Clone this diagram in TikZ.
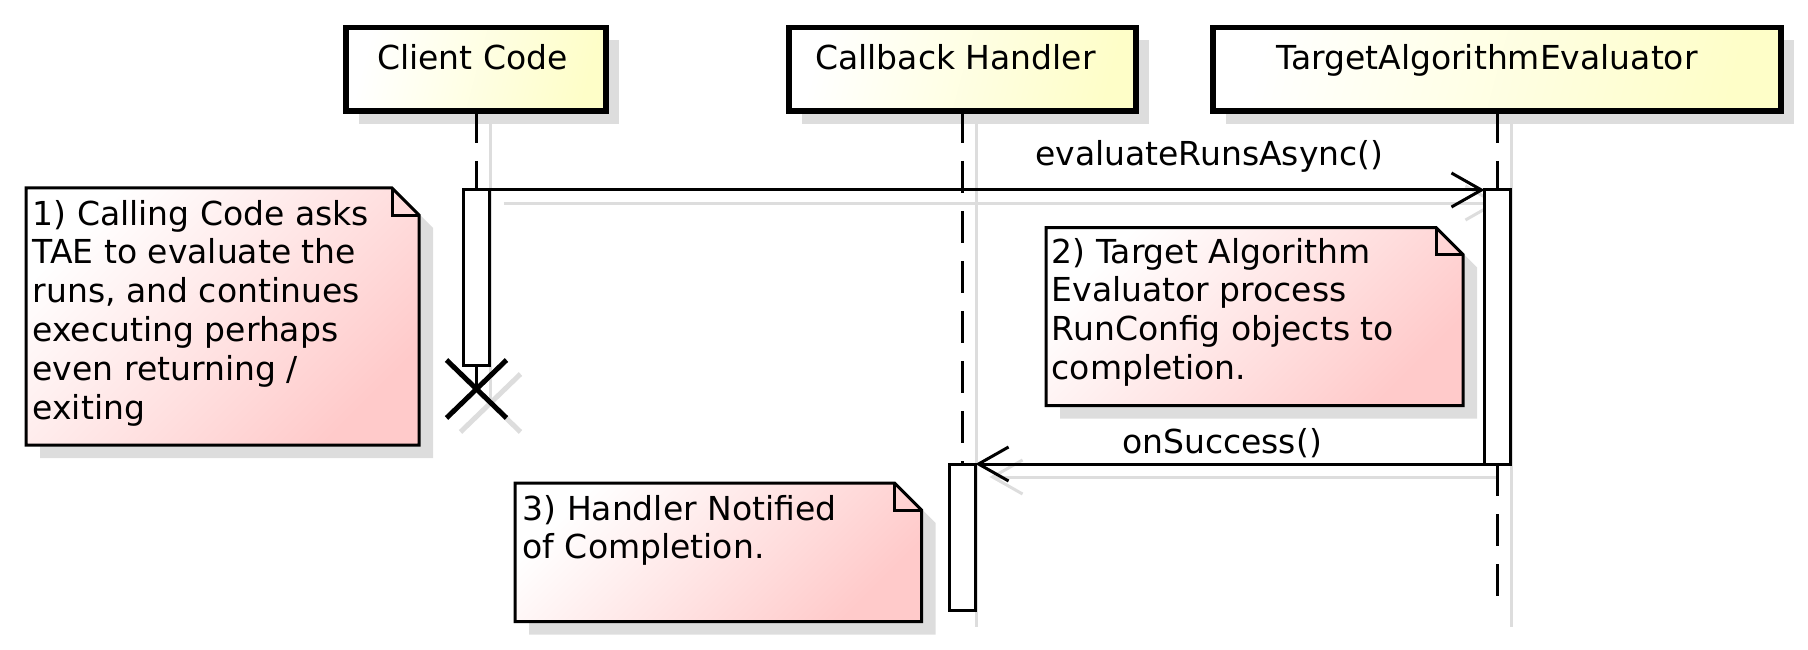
\documentclass[tikz,border=0pt]{standalone}
\usepackage{fontspec}
\setmainfont{DejaVu Sans}
\usetikzlibrary{arrows.meta}
\definecolor{partyellow}{RGB}{254,254,200}
\definecolor{notepink}{RGB}{255,202,202}
\definecolor{shadowgray}{RGB}{221,221,221}
\newcommand{\drawnote}[4]{%
  \fill[shadowfill] ({#1+14},{#2+13}) -- ({#3-27+14},{#2+13}) -- ({#3+14},{#2+27+13}) -- ({#3+14},{#4+13}) -- ({#1+14},{#4+13}) -- cycle;
  \shadedraw[notebody] (#1,#2) -- ({#3-27},#2) -- (#3,{#2+27}) -- (#3,#4) -- (#1,#4) -- cycle;
  \draw[noteline] ({#3-27},#2) -- ({#3-27},{#2+27}) -- (#3,{#2+27});
}
\newcommand{\mylines}[1]{\vtop{\baselineskip=38.9pt #1}}
\begin{document}
\begin{tikzpicture}[x=1pt,y=-1pt,
  every node/.style={font=\fontsize{33pt}{38.9pt}\selectfont, inner sep=0pt},
  partbox/.style={draw=black, line width=5.5pt, top color=white, bottom color=partyellow, shading angle=75, minimum height=83.5pt, outer sep=0pt},
  actbox/.style={draw=black, line width=3pt, fill=white, outer sep=0pt},
  lifeline/.style={draw=black, line width=2.5pt, dash pattern=on 32pt off 18pt},
  shadowline/.style={draw=shadowgray, line width=3pt},
  shadowfill/.style={fill=shadowgray},
  shadowarrow/.style={shadowline, -{Straight Barb[length=30pt,width=34pt]}},
  msg/.style={draw=black, line width=3pt, -{Straight Barb[length=30pt,width=34pt]}},
  notebody/.style={draw=black, line width=3pt, top color=white, bottom color=notepink, shading angle=45, line join=miter},
  noteline/.style={draw=black, line width=3pt},
  xmark/.style={draw=black, line width=5pt},
  xshadow/.style={draw=shadowgray, line width=5pt},
  txt/.style={anchor=base west},
  ptxt/.style={anchor=base}
]
\useasboundingbox (0,0) rectangle (1808,650);

% participants (first pass, for anchors of shadows)
\node[partbox, minimum width=260pt] (client) at (476,69.25) {};
\node[partbox, minimum width=347pt] (callback) at (962.5,69.25) {};
\node[partbox, minimum width=568pt] (tae) at (1496.75,69.25) {};

% activations
\node[actbox, minimum width=26pt, minimum height=175.5pt] (cact) at (476.5,277.75) {};
\node[actbox, minimum width=25.5pt, minimum height=274pt] (tact) at (1497.25,327) {};
\node[actbox, minimum width=26pt, minimum height=146.5pt] (hact) at (962.5,537.25) {};

% end points
\coordinate (cend) at (476.5,389);
\coordinate (tend) at (1497.25,596);
\coordinate (cshend) at (490.5,403);
\coordinate (hshend) at (976.5,627);
\coordinate (tshend) at (1511.25,627);
\coordinate (ctop) at (476.5,111);
\coordinate (htop) at (962.5,111);
\coordinate (ttop) at (1497.25,111);

% ---- shadows (drawn first) ----
\fill[shadowfill] ([shift={(13,13)}]client.north west) rectangle ([shift={(13,13)}]client.south east);
\fill[shadowfill] ([shift={(13,13)}]callback.north west) rectangle ([shift={(13,13)}]callback.south east);
\fill[shadowfill] ([shift={(13,13)}]tae.north west) rectangle ([shift={(13,13)}]tae.south east);
\draw[shadowline] ([shift={(14,13)}]ctop) -- (cshend);
\draw[shadowline] ([shift={(14,13)}]htop) -- (hshend);
\draw[shadowline] ([shift={(14,13)}]ttop) -- (tshend);
\draw[shadowarrow] ([shift={(14,13)}]cact.north east) -- ([shift={(14,13)}]tact.north west);
\draw[shadowarrow] ([shift={(14,13)}]tact.south west) -- ([shift={(14,13)}]hact.north east);
\draw[xshadow] ([shift={(-30,-29)}]cshend) -- ([shift={(30,29)}]cshend);
\draw[xshadow] ([shift={(-30,29)}]cshend) -- ([shift={(30,-29)}]cshend);

% ---- lifelines ----
\draw[lifeline] (ctop) -- (cact.north);
\draw[lifeline] (cact.south) -- (cend);
\draw[lifeline] (htop) -- (hact.north);
\draw[lifeline] (ttop) -- (tact.north);
\draw[lifeline] (tact.south) -- (tend);

% participants and activations above lifelines
\node[partbox, minimum width=260pt] (client) at (476,69.25) {};
\node[partbox, minimum width=347pt] (callback) at (962.5,69.25) {};
\node[partbox, minimum width=568pt] (tae) at (1496.75,69.25) {};
\node[ptxt] (clientlbl) at (472.5,70) {Client Code};
\node[ptxt] (callbacklbl) at (955.5,70) {Callback Handler};
\node[ptxt] (taelbl) at (1487,70) {TargetAlgorithmEvaluator};

\node[actbox, minimum width=26pt, minimum height=175.5pt] (cact) at (476.5,277.75) {};
\node[actbox, minimum width=25.5pt, minimum height=274pt] (tact) at (1497.25,327) {};
\node[actbox, minimum width=26pt, minimum height=146.5pt] (hact) at (962.5,537.25) {};

% destruction mark
\draw[xmark] ([shift={(-30,-29)}]cend) -- ([shift={(30,29)}]cend);
\draw[xmark] ([shift={(-30,29)}]cend) -- ([shift={(30,-29)}]cend);

% messages
\draw[msg] (cact.north east) -- (tact.north west);
\node[txt] (m1) at (1035,166) {evaluateRunsAsync()};
\draw[msg] (tact.south west) -- (hact.north east);
\node[txt] (m2) at (1122,453) {onSuccess()};

% notes
\drawnote{26}{188}{419}{445}
\node[txt] (n1) at (32.5,225) {\mylines{\hbox{1) Calling Code asks}\hbox{TAE to evaluate the}\hbox{runs, and continues}\hbox{executing perhaps}\hbox{even returning /}\hbox{exiting}}};

\drawnote{1046}{227.5}{1463}{405.5}
\node[txt] (n2) at (1051.5,263) {\mylines{\hbox{2) Target Algorithm}\hbox{Evaluator process}\hbox{RunConfig objects to}\hbox{completion.}}};

\drawnote{515}{483}{921.5}{621.5}
\node[txt] (n3) at (522.5,520) {\mylines{\hbox{3) Handler Notified}\hbox{of Completion.}}};
\end{tikzpicture}
\end{document}
